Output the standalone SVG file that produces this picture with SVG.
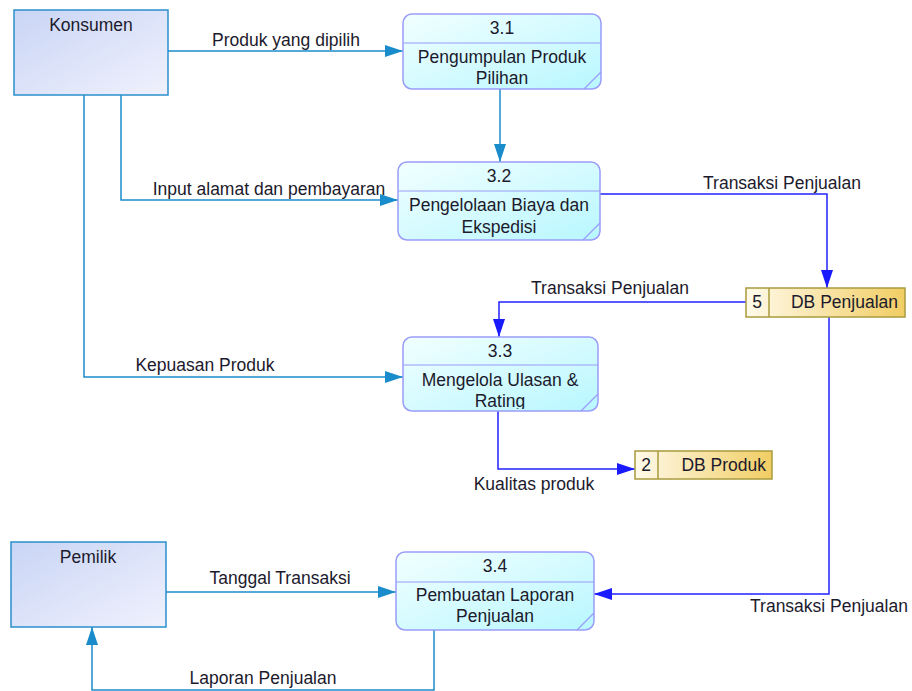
<svg xmlns="http://www.w3.org/2000/svg" width="912" height="691" viewBox="0 0 912 691">
<defs>
<linearGradient id="gEnt" x1="0" y1="0" x2="1" y2="1">
<stop offset="0" stop-color="#c9d5f5"/><stop offset="1" stop-color="#f0f1fd"/>
</linearGradient>
<linearGradient id="gProc" x1="0" y1="0" x2="1" y2="1">
<stop offset="0" stop-color="#f2ffff"/><stop offset="1" stop-color="#b8f7ff"/>
</linearGradient>
<linearGradient id="gStore" x1="0" y1="0" x2="1" y2="0">
<stop offset="0" stop-color="#fffaea"/><stop offset="1" stop-color="#f1cd63"/>
</linearGradient>
<marker id="aS" markerUnits="userSpaceOnUse" markerWidth="20" markerHeight="14" refX="18" refY="6" orient="auto">
<path d="M0,0 L18,6 L0,12 z" fill="#1b8ccb"/>
</marker>
<marker id="aB" markerUnits="userSpaceOnUse" markerWidth="20" markerHeight="14" refX="18" refY="6" orient="auto">
<path d="M0,0 L18,6 L0,12 z" fill="#1a1aff"/>
</marker>
<clipPath id="c33"><rect x="403" y="337" width="195" height="72"/></clipPath>
</defs>
<style>
text{font-family:"Liberation Sans",Arial,sans-serif;font-size:17.5px;fill:#1c1a2c;text-anchor:middle}
.ent{fill:url(#gEnt);stroke:#2a8fcb;stroke-width:1.5}
.proc{fill:url(#gProc);stroke:#9a9cf7;stroke-width:1.5}
.pl{stroke:#9a9cf7;stroke-width:1.2;fill:none}
.store{fill:url(#gStore);stroke:#a89b3c;stroke-width:1.5}
.fs{fill:none;stroke:#1b8ccb;stroke-width:1.5;marker-end:url(#aS)}
.fsn{fill:none;stroke:#1b8ccb;stroke-width:1.5}
.fb{fill:none;stroke:#2222ff;stroke-width:1.5;marker-end:url(#aB)}
.st{text-anchor:end}
</style>
<g id="connectors">
<path class="fs" d="M168,51 H403"/>
<path class="fs" d="M121,95 V200 H398"/>
<path class="fs" d="M84,95 V377 H403"/>
<path class="fs" d="M500,89 V162"/>
<path class="fb" d="M600,194 H827 V288"/>
<path class="fb" d="M746,302 H499 V337"/>
<path class="fb" d="M498,411 V469 H635"/>
<path class="fb" d="M829,317 V594 H594"/>
<path class="fs" d="M166,592 H396"/>
<path class="fs" d="M434,630 V690 H92 V627"/>
<text x="286" y="46">Produk yang dipilih</text>
<text x="269" y="195">Input alamat dan pembayaran</text>
<text x="782" y="189">Transaksi Penjualan</text>
<text x="610" y="294">Transaksi Penjualan</text>
<text x="205" y="371">Kepuasan Produk</text>
<text x="534" y="490">Kualitas produk</text>
<text x="280" y="584">Tanggal Transaksi</text>
<text x="829" y="612">Transaksi Penjualan</text>
<text x="263" y="684">Laporan Penjualan</text>
</g>
<g id="konsumen">
<rect class="ent" x="14" y="10" width="154" height="85"/>
<text x="91" y="31">Konsumen</text>
</g>
<g id="pemilik">
<rect class="ent" x="11" y="542" width="155" height="85"/>
<text x="88" y="563">Pemilik</text>
</g>
<g id="p31">
<rect class="proc" x="403" y="14" width="198" height="75" rx="9"/>
<path class="pl" d="M403,43 H601 M584,89 L601,72"/>
<text x="502" y="34">3.1</text>
<text x="502" y="63">Pengumpulan Produk</text>
<text x="502" y="84">Pilihan</text>
</g>
<g id="p32">
<rect class="proc" x="398" y="162" width="202" height="78" rx="9"/>
<path class="pl" d="M398,191 H600 M583,240 L600,223"/>
<text x="499" y="182">3.2</text>
<text x="499" y="211">Pengelolaan Biaya dan</text>
<text x="499" y="233">Ekspedisi</text>
</g>
<g id="p33">
<rect class="proc" x="403" y="337" width="195" height="74" rx="9"/>
<path class="pl" d="M403,365 H598 M581,411 L598,394"/>
<text x="500" y="357">3.3</text>
<g clip-path="url(#c33)">
<text x="500" y="386">Mengelola Ulasan &amp;</text>
<text x="500" y="407">Rating</text>
</g>
</g>
<g id="p34">
<rect class="proc" x="396" y="552" width="198" height="78" rx="9"/>
<path class="pl" d="M396,582 H594 M577,630 L594,613"/>
<text x="495" y="572">3.4</text>
<text x="495" y="601">Pembuatan Laporan</text>
<text x="495" y="622">Penjualan</text>
</g>
<g id="ds5">
<rect class="store" x="746" y="288" width="159" height="29"/>
<path class="store" d="M769,288 V317"/>
<text x="757" y="308">5</text>
<text class="st" x="898" y="308">DB Penjualan</text>
</g>
<g id="ds2">
<rect class="store" x="635" y="451" width="137" height="28"/>
<path class="store" d="M658,451 V479"/>
<text x="646" y="471">2</text>
<text class="st" x="766" y="471">DB Produk</text>
</g>
</svg>
